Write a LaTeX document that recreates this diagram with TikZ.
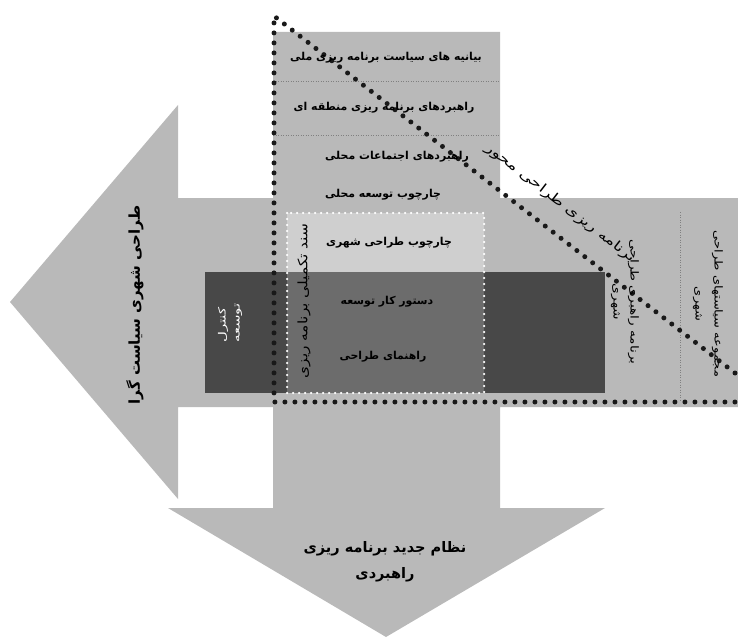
\documentclass[tikz,border=0pt]{standalone}
\usepackage{fontspec}
\newfontfamily\arabicfont[Script=Arabic]{DejaVu Sans}
\TeXXeTstate=1
\newcommand\prs[1]{\beginR #1\endR}
\definecolor{gA}{HTML}{B9B9B9}
\definecolor{gDark}{HTML}{484848}
\definecolor{gMid}{HTML}{6C6C6C}
\definecolor{gLight}{HTML}{CFCFCF}
\begin{document}
\begin{tikzpicture}[x=1pt,y=-1pt,
  txt/.style={font=\arabicfont\bfseries\fontsize{10.9}{13}\selectfont, inner sep=0pt, align=center},
  rtxt/.style={font=\arabicfont\fontsize{#1}{#1}\selectfont, inner sep=0pt, align=center},
  bigtxt/.style={font=\arabicfont\bfseries\fontsize{#1}{26}\selectfont, inner sep=0pt, align=center},
  divider/.style={gray, line width=0.6pt, dash pattern=on 1pt off 1.5pt},
  bigdots/.style={black!90, line width=5pt, line cap=round, dash pattern=on 0pt off 10pt},
  whitedots/.style={white, line width=2.5pt, line cap=round, dash pattern=on 0pt off 6pt}]
\useasboundingbox (0,0) rectangle (738,639);
% gray arrows (union)
\fill[gA] (178,198) -- (178,105) -- (10,302) -- (178,499) -- (178,407) -- (273,407)
  -- (273,508) -- (168,508) -- (386,637) -- (605,508) -- (500,508) -- (500,407)
  -- (738,407) -- (738,198) -- (500,198) -- (500,32) -- (273,32) -- (273,198) -- cycle;
% dividers
\draw[divider] (273,81) -- (500,81);
\draw[divider] (273,135) -- (500,135);
\draw[divider] (680,212) -- (680,402);
% dark rectangle
\fill[gDark] (205,272) rectangle (605,393);
% inner box
\fill[gLight] (287,213) rectangle (484,272);
\fill[gMid] (287,272) rectangle (484,393);
\draw[whitedots] (287,213) rectangle (484,393);
% big dotted outline
\coordinate (dA) at (735,373);
\coordinate (dB) at (274,16);
\coordinate (dC) at (274,402);
\coordinate (dD) at (735,402);
\draw[bigdots] (dA) -- (dB) -- (dC) -- (dD);
% texts
\node[txt] (t1) at (386,58) {\prs{بیانیه های سیاست برنامه ریزی ملی}};
\node[txt] (t2) at (384,108) {\prs{راهبردهای برنامه ریزی منطقه ای}};
\node[txt] (t3) at (397,157) {\prs{راهبردهای اجتماعات محلی}};
\node[txt] (t4) at (383,195) {\prs{چارچوب توسعه محلی}};
\node[txt] (t5) at (389,243) {\prs{چارچوب طراحی شهری}};
\node[txt] (t6) at (387,302) {\prs{دستور کار توسعه}};
\node[txt] (t7) at (383,357) {\prs{راهنمای طراحی}};
\node[rtxt=13, rotate=90, xscale=1.18] (t8) at (304,301) {\prs{سند تکمیلی برنامه ریزی}};
\node[rtxt=10, white, align=left, rotate=90, xscale=1.5] (t9) at (230,323) {\prs{کنترل}\\[4pt]\prs{توسعه}};
\node[bigtxt=15, rotate=90] (t10) at (135,305) {\prs{طراحی شهری سیاست گرا}};
\node[rtxt=13, rotate=-37.7, xscale=1.32] (t11) at (560,203) {\prs{برنامه ریزی طراحی محور}};
\node[rtxt=11, rotate=-90, xscale=1.25] (t12) at (625,302) {\prs{برنامه راهبری طراحی}\\[6pt]\prs{شهری}};
\node[rtxt=11, rotate=-90, xscale=1.18] (t13) at (708,304) {\prs{مجموعه سیاستهای طراحی}\\[8pt]\prs{شهری}};
\node[bigtxt=14.5] (t14) at (385,562) {\prs{نظام جدید برنامه ریزی}\\\prs{راهبردی}};
\end{tikzpicture}
\end{document}
